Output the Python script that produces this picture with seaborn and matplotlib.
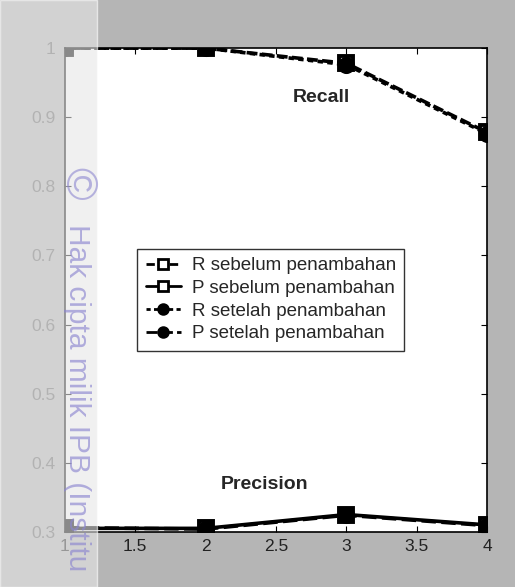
import matplotlib
matplotlib.use("Agg")
import matplotlib.pyplot as plt
import seaborn as sns
import pandas as pd

sns.set_style("ticks")
plt.rcParams['font.family'] = ['Liberation Sans', 'DejaVu Sans']

# data
x_vals = [1, 2, 3, 4]
r_sebelum = [1.0, 1.0, 0.978, 0.878]
p_sebelum = [0.305, 0.305, 0.325, 0.31]
r_setelah = [1.0, 1.0, 0.976, 0.876]
p_setelah = [0.306, 0.304, 0.324, 0.309]
labels = ['R sebelum penambahan', 'P sebelum penambahan',
          'R setelah penambahan', 'P setelah penambahan']

fig = plt.figure(figsize=(5.15, 5.87), dpi=100, facecolor='#b5b5b5')
ax = fig.add_axes([0.126, 0.094, 0.82, 0.824])
ax.set_facecolor('white')

styles = [('s', 'white', (0, (3, 1.2))), ('s', 'white', '-'),
          ('o', 'black', (0, (1.5, 1.2))), ('o', 'black', (0, (4, 1.5)))]
for ys, lab, (mk, mfc, ls) in zip([r_sebelum, p_sebelum, r_setelah, p_setelah], labels, styles):
    df = pd.DataFrame({'x': x_vals, 'y': ys})
    sns.lineplot(data=df, x='x', y='y', ax=ax, color='black', linewidth=2.6,
                 marker=mk, markersize=9.5, markerfacecolor=mfc, markeredgecolor='black',
                 markeredgewidth=2.8, linestyle=ls, label=lab)

ax.set_xlim(1, 4)
ax.set_ylim(0.3, 1.0)
ax.set_xticks([1, 1.5, 2, 2.5, 3, 3.5, 4])
ax.set_xticklabels(['1', '1.5', '2', '2.5', '3', '3.5', '4'])
ax.set_yticks([0.3, 0.4, 0.5, 0.6, 0.7, 0.8, 0.9, 1.0])
ax.set_yticklabels(['0.3', '0.4', '0.5', '0.6', '0.7', '0.8', '0.9', '1'])
ax.tick_params(direction='in', length=4, top=True, right=True, labelsize=12.5, color='black')
ax.tick_params(axis='x', labelcolor='#222222', pad=5)
ax.tick_params(axis='y', labelcolor='#666666', pad=7)
ax.set_xlabel('')
ax.set_ylabel('')
for s in ax.spines.values():
    s.set_color('black')
    s.set_linewidth(1.2)

ax.text(2.82, 0.929, 'Recall', fontsize=14, fontweight='bold', ha='center', va='center')
ax.text(2.415, 0.368, 'Precision', fontsize=14, fontweight='bold', ha='center', va='center')

leg = ax.legend(loc='center', bbox_to_anchor=(0.4875, 0.48), fontsize=13.5, frameon=True,
                fancybox=False, edgecolor='black', handlelength=1.9, borderpad=0.45,
                labelspacing=0.3, handletextpad=0.55, borderaxespad=0)
leg.get_frame().set_linewidth(1.0)
for h in leg.legend_handles:
    h.set_markersize(7)
    h.set_markeredgewidth(2)
    h.set_linewidth(2)

# lighter scan band and faint watermark
fig.patches.append(plt.Rectangle((0, 0), 97 / 515, 1, transform=fig.transFigure,
                                 facecolor='#e6e6e6', alpha=0.6, zorder=5))
fig.text(77 / 515, 1 - 183 / 587, '\u00a9', rotation=270, fontsize=32,
         color='#8c86d0', alpha=0.6, ha='center', va='center', zorder=6)
fig.text(77 / 515, 1 - 224 / 587, 'Hak cipta milik IPB (Institu', rotation=270,
         fontsize=21.5, color='#8c86d0', alpha=0.65, ha='center', va='top', zorder=6)

fig.savefig('out.png', dpi=100, facecolor=fig.get_facecolor())
